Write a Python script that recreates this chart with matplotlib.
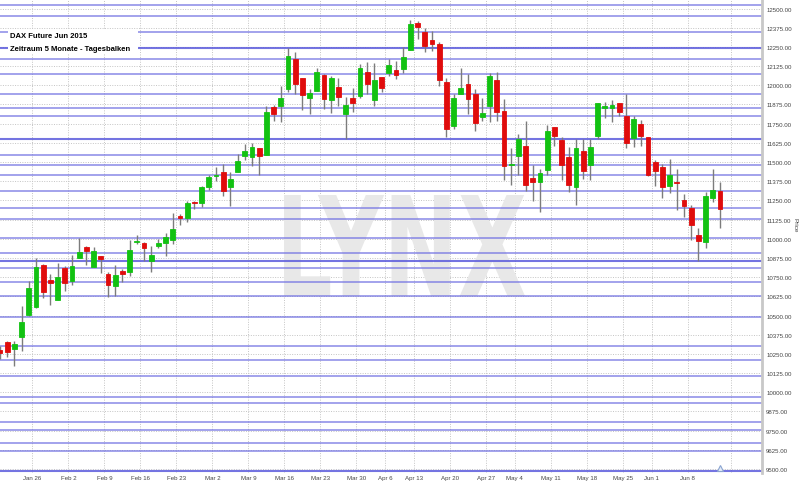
import numpy as np
import matplotlib as mpl
mpl.use('Agg')
import matplotlib.pyplot as plt
from matplotlib.patches import Rectangle, PathPatch
from matplotlib.textpath import TextPath
from matplotlib.font_manager import FontProperties
from matplotlib.transforms import Affine2D

# DAX future, daily bars, Jan 19 - Jun 12 2015 (trading day index 0..100)
opens = [10278, 10325, 10282, 10358, 10505, 10553, 10831, 10733, 10603, 10808,
         10727, 10875, 10948, 10818, 10886, 10772, 10694, 10792, 10781, 10981,
         10974, 10853, 10955, 10970, 10994, 11146, 11137, 11238, 11231, 11335,
         11411, 11433, 11339, 11437, 11537, 11531, 11589, 11546, 11860, 11867,
         11976, 12171, 12045, 11919, 11965, 12067, 11906, 11987, 11813, 11917,
         11932, 12088, 11906, 12052, 12080, 12101, 12106, 12232, 12406, 12349,
         12293, 12267, 12019, 11737, 11943, 12010, 11943, 11791, 11863, 12036,
         11834, 11479, 11537, 11604, 11394, 11370, 11448, 11726, 11645, 11531,
         11337, 11572, 11481, 11668, 11850, 11851, 11883, 11798, 11656, 11748,
         11661, 11498, 11466, 11346, 11368, 11255, 11198, 11025, 10981, 11264,
         11308]
highs = [10303, 10336, 10336, 10564, 10727, 10873, 10835, 10770, 10842, 10820,
         10894, 11005, 10952, 10944, 10890, 10785, 10829, 10803, 10992, 11026,
         10978, 10955, 10998, 11035, 11166, 11161, 11248, 11246, 11342, 11415,
         11466, 11487, 11433, 11552, 11617, 11624, 11592, 11867, 11871, 11993,
         12243, 12215, 12049, 11976, 12113, 12071, 12058, 12047, 11922, 11982,
         12139, 12150, 12143, 12055, 12171, 12156, 12247, 12425, 12421, 12371,
         12356, 12280, 12047, 11943, 12111, 12073, 11976, 11919, 12082, 12085,
         11911, 11589, 11683, 11769, 11481, 11456, 11741, 11730, 11661, 11601,
         11650, 11648, 11652, 11887, 11889, 11902, 11887, 11943, 11798, 11776,
         11665, 11513, 11487, 11520, 11454, 11292, 11220, 11068, 11303, 11454,
         11368]
lows = [10217, 10228, 10173, 10271, 10500, 10548, 10612, 10570, 10598, 10662,
        10701, 10872, 10829, 10815, 10775, 10619, 10625, 10716, 10759, 10966,
        10857, 10781, 10938, 10886, 10966, 11092, 11111, 11194, 11205, 11320,
        11378, 11277, 11215, 11433, 11515, 11476, 11415, 11543, 11769, 11759,
        11958, 11943, 11841, 11813, 11961, 11845, 11819, 11863, 11650, 11828,
        11915, 11943, 11867, 11954, 12058, 12041, 12080, 12228, 12301, 12215,
        12225, 11992, 11666, 11715, 11940, 11815, 11702, 11769, 11759, 11769,
        11383, 11350, 11415, 11309, 11248, 11176, 11415, 11606, 11385, 11307,
        11223, 11389, 11385, 11647, 11785, 11763, 11798, 11589, 11600, 11606,
        11407, 11342, 11264, 11296, 11187, 11140, 10994, 10857, 10938, 11238,
        11068]
closes = [10259, 10264, 10314, 10460, 10679, 10818, 10651, 10712, 10749, 10712,
          10820, 10912, 10922, 10918, 10868, 10701, 10764, 10772, 10929, 10987,
          10940, 10894, 10972, 11013, 11064, 11133, 11231, 11231, 11339, 11400,
          11415, 11309, 11389, 11509, 11570, 11596, 11541, 11824, 11813, 11915,
          12189, 12008, 11939, 11948, 12085, 11911, 12047, 11926, 11873, 11884,
          12113, 12008, 12034, 11982, 12132, 12069, 12182, 12399, 12380, 12258,
          12269, 12036, 11713, 11916, 11980, 11909, 11752, 11821, 12062, 11829,
          11476, 11485, 11648, 11352, 11373, 11430, 11699, 11671, 11482, 11350,
          11589, 11440, 11599, 11883, 11863, 11873, 11826, 11624, 11780, 11671,
          11417, 11443, 11335, 11415, 11361, 11215, 11092, 10987, 11281, 11320,
          11194]

# first trading day of each week (index) and its label
week_index = [5, 10, 15, 20, 25, 30, 35, 40, 45, 50, 54, 58, 63, 68, 72, 77,
              82, 87, 91, 96]
week_labels = ['Jan 26', 'Feb 2', 'Feb 9', 'Feb 16', 'Feb 23', 'Mar 2',
               'Mar 9', 'Mar 16', 'Mar 23', 'Mar 30', 'Apr 6', 'Apr 13',
               'Apr 20', 'Apr 27', 'May 4', 'May 11', 'May 18', 'May 25',
               'Jun 1', 'Jun 8']

# horizontal support / resistance lines
levels = [12520, 12453, 12350, 12246, 12171, 12073, 11940, 11854, 11800,
          11650, 11548, 11480, 11417, 11308, 11198, 11128, 11003, 10906,
          10856, 10807, 10716, 10629, 10490, 10303, 10207, 10109, 9967, 9929,
          9805, 9757, 9671, 9618, 9490]
strong_levels = [12246, 11650, 10856, 9490]

price_ticks = np.arange(9500, 12501, 125)

fig = plt.figure(figsize=(8, 4.85), dpi=100)
ax = fig.add_axes([0, 11 / 485, 762 / 800, 474 / 485])

x = np.arange(len(opens))
o = np.array(opens)
c = np.array(closes)
up = c >= o
cols = np.where(up, '#12c212', '#e00c0c')

# grid
for p in price_ticks:
    ax.axhline(p, color='#c4c4c4', lw=0.7, ls=(0, (1, 1.5)), zorder=1)
for w in week_index:
    ax.axvline(w - 0.5, color='#c4c4c4', lw=0.7, ls=(0, (1, 1.5)), zorder=1)
ax.axvline(101.5, color='#c4c4c4', lw=0.7, ls=(0, (1, 1.5)), zorder=1)

# watermark
fp = FontProperties(family='DejaVu Sans', weight='bold')
tp = TextPath((0, 0), 'LYNX', size=100, prop=fp)
ext = tp.get_extents()
bx0, bx1 = 284 / 762, 525 / 762
by0, by1 = 1 - 297 / 474, 1 - 196 / 474
tr = (Affine2D().translate(-ext.x0, -ext.y0)
      .scale((bx1 - bx0) / ext.width, (by1 - by0) / ext.height)
      .translate(bx0, by0))
ax.add_patch(PathPatch(tr.transform_path(tp), transform=ax.transAxes,
                       facecolor='#e8e8e8', edgecolor='none', zorder=1.5))

# support / resistance lines
for lv in levels:
    if lv in strong_levels:
        ax.axhline(lv, color='#5c5cdc', lw=1.5, alpha=0.85, zorder=2)
    else:
        ax.axhline(lv, color='#7474e2', lw=1.1, alpha=0.85, zorder=2)

# candles
ax.vlines(x, lows, highs, color='#7c7c7c', lw=1.0, zorder=3)
ax.bar(x, np.abs(c - o), bottom=np.minimum(o, c), width=0.66, color=cols,
       edgecolor=cols, lw=0.6, zorder=4)

ax.plot([100], [9508], marker='^', ms=5, mfc='#e4ecf8', mec='#8aa4d0',
        mew=0.8, zorder=5, clip_on=False)

ax.set_xlim(0, 762 / 7.2)
ax.set_ylim(9474, 12562)

ax.yaxis.tick_right()
ax.set_yticks(price_ticks)
ax.set_yticklabels(['{:.2f}'.format(p) for p in price_ticks])
ax.set_xticks([w - 0.5 for w in week_index])
ax.set_xticklabels(week_labels)
ax.tick_params(axis='both', length=0, labelsize=4.4, labelcolor='#444444',
               labelfontfamily='Liberation Sans')
ax.tick_params(axis='y', pad=3)
ax.tick_params(axis='x', pad=1.5)

for s in ['top', 'left', 'bottom']:
    ax.spines[s].set_visible(False)
ax.spines['right'].set_color('#c8c8c8')
ax.spines['right'].set_linewidth(2)

# title box
ax.add_patch(Rectangle((8 / 762, 1 - 54 / 474), 130 / 762, 23 / 474,
                       transform=ax.transAxes, facecolor='white',
                       edgecolor='none', zorder=6))
ax.text(10 / 762, 1 - 36.5 / 474, 'DAX Future Jun 2015', transform=ax.transAxes,
        fontsize=5.5, fontweight='bold', family='Liberation Sans',
        va='center', ha='left', zorder=7)
ax.text(10 / 762, 1 - 49.5 / 474, 'Zeitraum 5 Monate - Tagesbalken',
        transform=ax.transAxes, fontsize=5.5, fontweight='bold',
        family='Liberation Sans', va='center', ha='left', zorder=7)

fig.text(795 / 800, 1 - 225 / 485, 'Price', rotation=270, fontsize=4.6,
         color='#444444', family='Liberation Sans', ha='center', va='center')

fig.savefig('out.png', dpi=100)
